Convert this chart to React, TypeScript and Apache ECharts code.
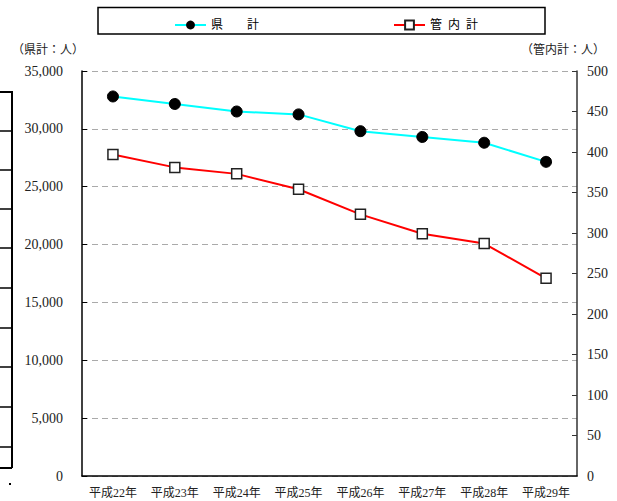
import React, { useEffect, useRef } from "react";
import * as echarts from "echarts";

const categories = ["平成22年", "平成23年", "平成24年", "平成25年", "平成26年", "平成27年", "平成28年", "平成29年"];
const prefTotal = [32800, 32150, 31500, 31250, 29800, 29300, 28800, 27150];
const localTotal = [397, 381, 373, 354, 323, 299, 287, 244];
const seriesNames = ["県　　計", "管\u2002内\u2002計"];
const leftAxisName = "（県計：人）";
const rightAxisName = "（管内計：人）";

const FONT = "Liberation Serif, Noto Sans CJK JP, serif";

export default function App() {
  const ref = useRef<HTMLDivElement>(null);
  useEffect(() => {
    if (!ref.current) return;
    const chart = echarts.init(ref.current, undefined, { renderer: "svg" });
    const artifactYs = [92, 131, 170, 209, 248, 288, 328, 367, 407, 447, 468];
    const artifact: any[] = [
      { type: "line", shape: { x1: 12, y1: 91, x2: 12, y2: 468 }, style: { stroke: "#000", lineWidth: 2 } },
      ...artifactYs.map((y) => ({
        type: "line",
        shape: { x1: 0, y1: y, x2: 12, y2: y },
        style: { stroke: "#000", lineWidth: y === 92 || y === 468 ? 2 : 1.5 },
      })),
      { type: "rect", shape: { x: 9, y: 483, width: 2, height: 2 }, style: { fill: "#000" } },
    ];
    chart.setOption({
      animation: false,
      backgroundColor: "#fff",
      textStyle: { fontFamily: FONT },
      grid: { left: 82, right: 40, top: 71, bottom: 25, containLabel: false },
      legend: {
        left: 169,
        top: 14,
        itemWidth: 31,
        itemHeight: 11,
        itemGap: 134,
        textStyle: { color: "#000", fontSize: 12, fontFamily: FONT },
        data: seriesNames,
      },
      graphic: [
        {
          type: "rect",
          shape: { x: 98, y: 7.5, width: 447, height: 26.5 },
          style: { fill: "none", stroke: "#000", lineWidth: 1.5 },
          z: -1,
        },
        {
          type: "text",
          left: 12,
          top: 44,
          style: { text: leftAxisName, fill: "#222", fontSize: 12, fontFamily: FONT },
        },
        {
          type: "text",
          left: 521,
          top: 44,
          style: { text: rightAxisName, fill: "#222", fontSize: 12, fontFamily: FONT },
        },
        ...artifact,
      ],
      xAxis: {
        type: "category",
        data: categories,
        boundaryGap: true,
        axisLine: { lineStyle: { color: "#000", width: 1.5 } },
        axisTick: { inside: true, length: 5, lineStyle: { color: "#000" } },
        axisLabel: { color: "#222", fontSize: 12, margin: 11, interval: 0, fontFamily: FONT },
      },
      yAxis: [
        {
          type: "value",
          min: 0,
          max: 35000,
          interval: 5000,
          position: "left",
          axisLine: { show: true, lineStyle: { color: "#000", width: 1.5 } },
          axisTick: { show: true, inside: true, length: 5, lineStyle: { color: "#000" } },
          axisLabel: {
            color: "#222",
            fontSize: 14,
            margin: 19,
            fontFamily: FONT,
            formatter: (v: number) => v.toLocaleString("en-US"),
          },
          splitLine: { show: true, lineStyle: { color: "#aaa", type: [6, 4], width: 1 } },
        },
        {
          type: "value",
          min: 0,
          max: 500,
          interval: 50,
          position: "right",
          axisLine: { show: true, lineStyle: { color: "#333", width: 1.5 } },
          axisTick: { show: true, inside: true, length: 5, lineStyle: { color: "#333" } },
          axisLabel: { color: "#222", fontSize: 14, margin: 10, fontFamily: FONT },
          splitLine: { show: false },
        },
      ],
      series: [
        {
          name: seriesNames[0],
          type: "line",
          yAxisIndex: 0,
          data: prefTotal,
          symbol: "circle",
          symbolSize: 11,
          lineStyle: { color: "#00FFFF", width: 2 },
          itemStyle: { color: "#000", borderColor: "#000" },
        },
        {
          name: seriesNames[1],
          type: "line",
          yAxisIndex: 1,
          data: localTotal,
          symbol: "rect",
          symbolSize: 10,
          lineStyle: { color: "#FF0000", width: 2 },
          itemStyle: { color: "#fff", borderColor: "#222", borderWidth: 1.5 },
        },
      ],
    });
    return () => chart.dispose();
  }, []);
  return (
    <div
      ref={ref}
      style={{ position: "absolute", left: 0, top: 0, width: 617, height: 501 }}
    />
  );
}
